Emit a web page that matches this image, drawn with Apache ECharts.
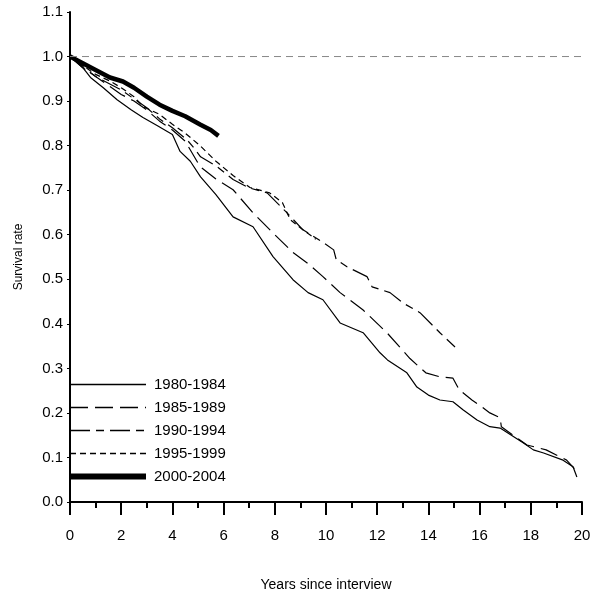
<!DOCTYPE html>
<html>
<head>
<meta charset="utf-8">
<script src="https://cdn.jsdelivr.net/npm/echarts@6/dist/echarts.min.js"></script>
<style>
  html, body { margin: 0; padding: 0; background: #fff; }
  #mychart { width: 600px; height: 608px; }
</style>
</head>
<body>
<div id="mychart"></div>
<script>
var domchart = document.getElementById("mychart");

// series names (legend)
var names = ['1980-1984', '1985-1989', '1990-1994', '1995-1999', '2000-2004'];

// [years since interview, survival rate]
var s1980 = [[0,1],[0.5,0.975],[0.8,0.953],[1.3,0.93],[1.84,0.903],[2.4,0.88],[2.85,0.863],[3.4,0.845],[4.0,0.825],[4.3,0.787],[4.7,0.765],[5.1,0.73],[5.7,0.69],[6.37,0.64],[7.15,0.618],[7.93,0.551],[8.71,0.499],[9.3,0.47],[9.88,0.454],[10.55,0.402],[11.45,0.38],[12.11,0.335],[12.4,0.319],[13.16,0.29],[13.55,0.258],[14.0,0.24],[14.45,0.229],[14.96,0.225],[15.35,0.207],[15.9,0.184],[16.4,0.169],[16.8,0.166],[17.7,0.133],[18.1,0.117],[18.5,0.11],[19.26,0.094],[19.65,0.079],[19.8,0.056]];
var s1985 = [[0,1],[0.5,0.978],[1,0.955],[1.5,0.935],[2.0,0.915],[2.5,0.9],[3.0,0.88],[3.5,0.855],[4.0,0.835],[4.5,0.81],[5.08,0.753],[5.7,0.725],[6.37,0.701],[7.15,0.649],[7.93,0.604],[8.71,0.56],[9.3,0.535],[9.88,0.506],[10.55,0.47],[11.45,0.431],[12.38,0.38],[13.28,0.322],[13.9,0.29],[14.45,0.281],[14.96,0.278],[15.2,0.252],[15.7,0.229],[16.1,0.213],[16.4,0.2],[16.8,0.189],[16.85,0.169],[17.3,0.15],[17.85,0.128],[18.6,0.117],[19.4,0.094],[19.7,0.075]];
var s1990 = [[0,1],[0.5,0.975],[1,0.955],[1.5,0.94],[2.0,0.925],[2.5,0.905],[3.0,0.885],[3.5,0.86],[4.0,0.84],[4.57,0.813],[4.8,0.798],[5.1,0.775],[5.74,0.753],[6.37,0.724],[7.0,0.705],[7.7,0.694],[8.48,0.649],[9.1,0.611],[9.9,0.582],[10.3,0.566],[10.4,0.544],[10.82,0.528],[11.6,0.506],[11.8,0.483],[12.5,0.47],[13.0,0.447],[13.67,0.425],[14.45,0.38],[15.04,0.348]];
var s1995 = [[0,1],[0.5,0.98],[1,0.96],[1.56,0.945],[2.0,0.93],[2.5,0.91],[2.85,0.888],[3.5,0.87],[4.0,0.848],[4.5,0.828],[5.08,0.8],[5.7,0.765],[6.37,0.733],[7.03,0.706],[7.8,0.694],[8.3,0.672],[8.6,0.634],[9.1,0.611],[9.6,0.59]];
var s2000 = [[0,1],[0.5,0.985],[1,0.97],[1.56,0.953],[2.07,0.944],[2.5,0.93],[3.0,0.91],[3.5,0.892],[4.0,0.878],[4.5,0.866],[5.1,0.847],[5.5,0.835],[5.8,0.822]];

// reference line at 1.0
var refLine = [[0,1],[20,1]];

// axis ticks
var xMax = 20, xStep = 2;
var yMax = 1.1, yStep = 0.1;

var widths = [1.2, 1.2, 1.2, 1.2, 4.5];
var dashes = ['solid', [18, 7], [20, 6, 8, 6], [6, 4], 'solid'];
var allData = [s1980, s1985, s1990, s1995, s2000];

var seriesList = names.map(function (n, i) {
    return {
        name: n,
        type: 'line',
        data: allData[i],
        symbol: 'none',
        silent: true,
        itemStyle: { color: '#000' },
        lineStyle: { color: '#000', width: widths[i], type: dashes[i] }
    };
});
seriesList.push({
    type: 'line',
    data: refLine,
    symbol: 'none',
    silent: true,
    lineStyle: { color: '#888', width: 1, type: [7, 5] }
});

var legendData = names.map(function (n, i) {
    return {
        name: n,
        itemStyle: { opacity: 0 },
        lineStyle: { color: '#000', width: i === 4 ? 6 : 1.5, type: dashes[i] }
    };
});

var option = {
    animation: false,
    backgroundColor: '#fff',
    textStyle: { fontFamily: 'Liberation Sans, Arial, sans-serif', color: '#000' },
    grid: { left: 70, right: 18, top: 12, bottom: 106, containLabel: false },
    legend: {
        left: 67,
        top: 377,
        padding: 0,
        orient: 'vertical',
        itemWidth: 76,
        itemHeight: 14,
        itemGap: 8,
        data: legendData,
        textStyle: { fontSize: 15, color: '#000', padding: [0, 0, 0, 3] }
    },
    xAxis: {
        type: 'value',
        min: 0, max: xMax, interval: xStep,
        name: 'Years since interview',
        nameLocation: 'middle',
        nameGap: 76,
        nameTextStyle: { fontSize: 14, color: '#000' },
        axisLine: { lineStyle: { color: '#000', width: 2 } },
        axisTick: { length: 13, lineStyle: { color: '#000', width: 2 } },
        minorTick: { show: true, splitNumber: 2, length: 6, lineStyle: { color: '#000', width: 2 } },
        splitLine: { show: false },
        axisLabel: { fontSize: 15, color: '#000', margin: 26 }
    },
    yAxis: {
        type: 'value',
        min: 0, max: yMax, interval: yStep,
        name: 'Survival rate',
        nameLocation: 'middle',
        nameGap: 45,
        nameTextStyle: { fontSize: 12, color: '#000' },
        axisLine: { show: true, lineStyle: { color: '#000', width: 2 } },
        axisTick: { show: true, length: 3, lineStyle: { color: '#000', width: 1 } },
        splitLine: { show: false },
        axisLabel: { fontSize: 15, color: '#000', margin: 7, formatter: function (v) { return v.toFixed(1); } }
    },
    series: seriesList
};

var chart = echarts.init(domchart);
chart.setOption(option);
</script>
</body>
</html>
